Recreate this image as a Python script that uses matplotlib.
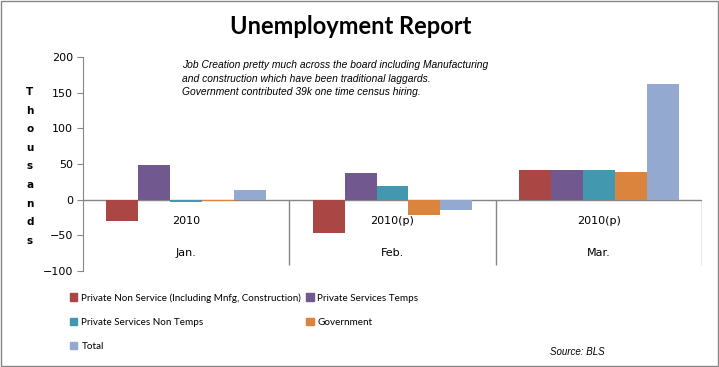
import matplotlib.pyplot as plt
import numpy as np
from matplotlib.patches import Rectangle, Patch

months = ["Jan.", "Feb.", "Mar."]
years = ["2010", "2010(p)", "2010(p)"]
series_names = [
    "Private Non Service (Including Mnfg, Construction)",
    "Private Services Temps",
    "Private Services Non Temps",
    "Government",
    "Total",
]
private_non_service = [-30, -47, 41]
private_temps = [49, 37, 41]
private_non_temps = [-3, 19, 42]
government = [-2, -22, 39]
total = [13, -14, 162]
colors = ["#AA4643", "#71588F", "#4198AF", "#DB843D", "#93A9CF"]

note = ("Job Creation pretty much across the board including Manufacturing\n"
        "and construction which have been traditional laggards.\n"
        "Government contributed 39k one time census hiring.")

series = [private_non_service, private_temps, private_non_temps, government, total]

fig = plt.figure(figsize=(7.19, 3.67), dpi=100)
ax = fig.add_axes([0.1154, 0.2616, 0.861, 0.5831])

ax.axhline(0, color="#868686", lw=1, zorder=1)
ax.vlines([0.5, 1.5, 2.5], -92, 0, color="#868686", lw=1)

x = np.arange(len(months))
width = 0.155
for i, (vals, c) in enumerate(zip(series, colors)):
    ax.bar(x + (i - 2) * width, vals, width, color=c, label=series_names[i],
           zorder=2)

ax.set_xlim(-0.5, 2.5)
ax.set_ylim(-100, 200)
ax.set_yticks(range(-100, 201, 50))
ax.tick_params(axis="y", direction="out", length=4, color="#868686",
               labelsize=8, pad=3)
ax.set_xticks([])
for s in ["top", "right", "bottom"]:
    ax.spines[s].set_visible(False)
ax.spines["left"].set_color("#868686")

for xi, (yr, m) in enumerate(zip(years, months)):
    ax.text(xi, -30, yr, ha="center", va="center", fontsize=8)
    ax.text(xi, -75, m, ha="center", va="center", fontsize=8)

# stacked axis label
for k, ch in enumerate("Thousands"):
    fig.text(30 / 719, 1 - (92 + k * 18.6) / 367, ch, ha="center",
             va="center", fontsize=7.5, fontweight="bold")

fig.text(351 / 719, 1 - 27 / 367, "Unemployment Report", ha="center",
         va="center", fontsize=17, fontweight="bold", family="Lato")

fig.text(182 / 719, 1 - 60 / 367, note, ha="left", va="top", fontsize=7.4,
         style="italic", family="Liberation Sans", linespacing=1.45)

fig.text(550 / 719, 1 - 352 / 367, "Source: BLS", ha="left", va="center",
         fontsize=7, style="italic", family="Liberation Sans")

order = [0, 2, 4, 1, 3]
handles = [Patch(color=colors[i]) for i in order]
labels = [series_names[i] for i in order]
fig.legend(handles, labels, ncol=2, loc="upper left",
           bbox_to_anchor=(70 / 719, 1 - 293 / 367), frameon=False,
           prop={"family": "Lato", "size": 7.1}, handlelength=0.75,
           handleheight=0.75, handletextpad=0.4, labelspacing=1.55,
           columnspacing=0.5, borderaxespad=0, borderpad=0)

fig.patches.append(Rectangle((0.002, 0.003), 0.996, 0.994, transform=fig.transFigure,
                             fill=False, edgecolor="#868686", lw=1))

fig.savefig("out.png", dpi=100)
